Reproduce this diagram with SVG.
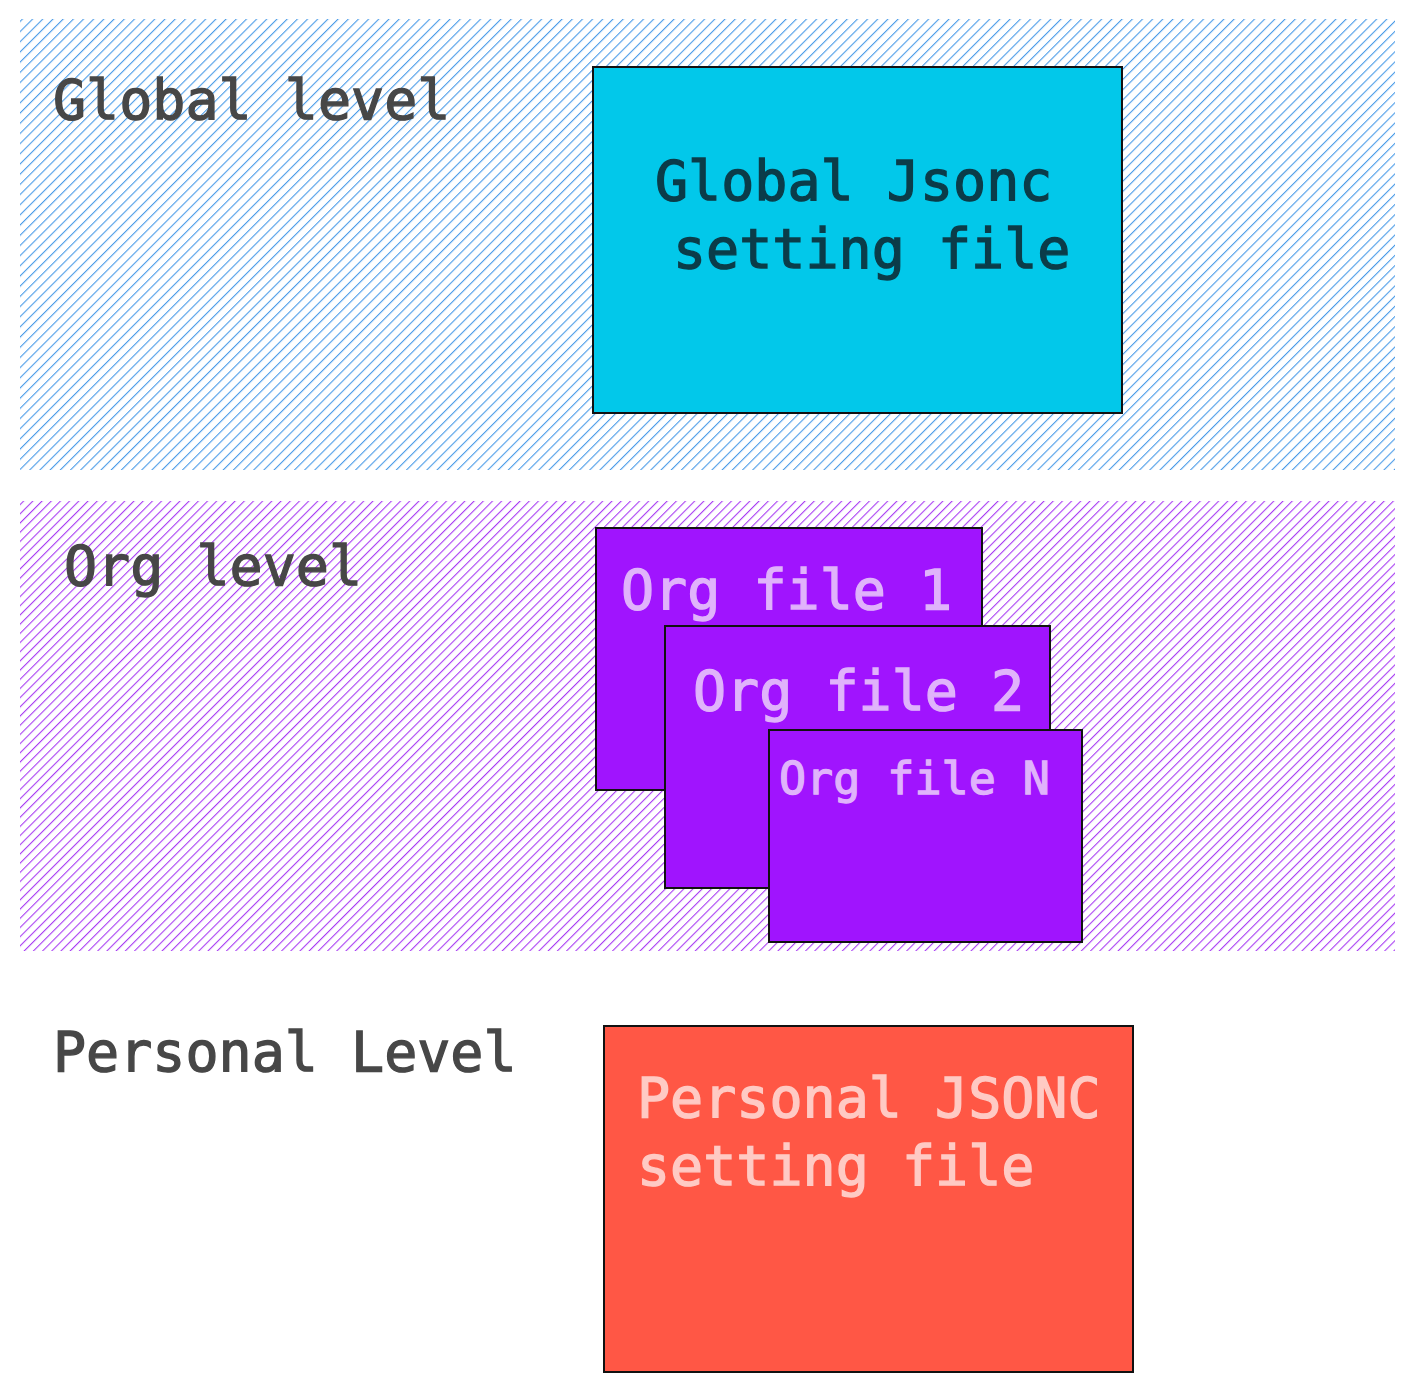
<svg xmlns="http://www.w3.org/2000/svg" width="1410" height="1392" viewBox="0 0 1410 1392">
<defs>
<pattern id="hatchBlue" patternUnits="userSpaceOnUse" width="7.2" height="10" patternTransform="rotate(45)">
<rect x="0" y="0" width="1.1" height="10" fill="#4a9be8"/>
</pattern>
<pattern id="hatchPurple" patternUnits="userSpaceOnUse" width="6.5" height="10" patternTransform="rotate(45)">
<rect x="0" y="0" width="1.1" height="10" fill="#a83cf3"/>
</pattern>
</defs>
<style>
.lbl{font-family:"DejaVu Sans Mono","Liberation Mono",monospace;font-size:55px;fill:#474747;stroke:#474747;stroke-width:1.3}
.t{font-family:"DejaVu Sans Mono","Liberation Mono",monospace;font-size:55px;stroke-width:1.3}
.box{stroke:#111;stroke-width:2}
</style>
<rect width="1410" height="1392" fill="#ffffff"/>
<g id="global-level">
<rect x="20" y="19" width="1375" height="451" fill="url(#hatchBlue)"/>
<text class="lbl" x="53" y="119">Global level</text>
</g>
<g id="org-level">
<rect x="20" y="501" width="1375" height="450" fill="url(#hatchPurple)"/>
<text class="lbl" x="64" y="585">Org level</text>
</g>
<g id="personal-level">
<text class="lbl" x="53" y="1071">Personal Level</text>
</g>
<g id="global-file">
<rect class="box" x="593" y="67" width="529" height="346" fill="#02c8ea"/>
<text class="t" fill="#0b3c49" stroke="#0b3c49" x="655" y="200">Global Jsonc</text>
<text class="t" fill="#0b3c49" stroke="#0b3c49" x="673" y="268">setting file</text>
</g>
<g id="org-file-1">
<rect class="box" x="596" y="528" width="386" height="262" fill="#a014fe"/>
<text class="t" fill="#e0b3fb" stroke="#e0b3fb" x="621" y="609">Org file 1</text>
</g>
<g id="org-file-2">
<rect class="box" x="665" y="626" width="385" height="262" fill="#a014fe"/>
<text class="t" fill="#e0b3fb" stroke="#e0b3fb" x="693" y="710">Org file 2</text>
</g>
<g id="org-file-n">
<rect class="box" x="769" y="730" width="313" height="212" fill="#a014fe"/>
<text class="t" fill="#e0b3fb" stroke="#e0b3fb" style="font-size:45px" x="779" y="794">Org file N</text>
</g>
<g id="personal-file">
<rect class="box" x="604" y="1026" width="529" height="346" fill="#ff5745"/>
<text class="t" fill="#ffcac4" stroke="#ffcac4" x="637" y="1117">Personal JSONC</text>
<text class="t" fill="#ffcac4" stroke="#ffcac4" x="637" y="1185">setting file</text>
</g>
<g id="connectors"></g>
</svg>
